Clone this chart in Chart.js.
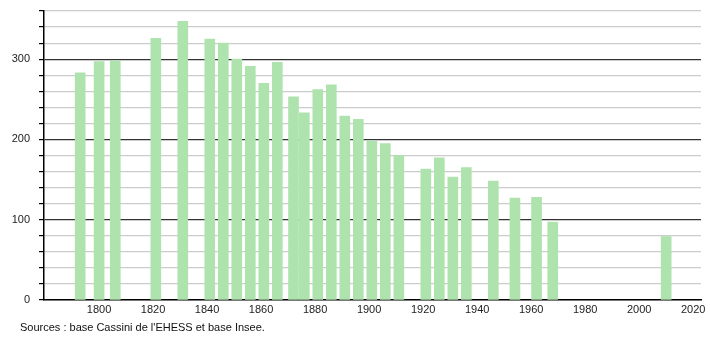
<!DOCTYPE html>
<html>
<head>
<meta charset="utf-8">
<script src="https://cdn.jsdelivr.net/npm/chart.js@4/dist/chart.umd.min.js"></script>
<style>
  html, body { margin: 0; padding: 0; background: #fff; }
  #wrap { position: relative; width: 710px; height: 340px; }
  #src { position: absolute; left: 20px; top: 321px; font: 11px "Liberation Sans", Arial, sans-serif; color: #111; white-space: nowrap; }
</style>
</head>
<body>
<div id="wrap">
  <canvas id="c" width="710" height="340"></canvas>
  <div id="src">Sources : base Cassini de l'EHESS et base Insee.</div>
</div>
<script>
const years = [1793, 1800, 1806, 1821, 1831, 1841, 1846, 1851, 1856, 1861, 1866, 1872, 1876, 1881, 1886, 1891, 1896, 1901, 1906, 1911, 1921, 1926, 1931, 1936, 1946, 1954, 1962, 1968, 2010];
const population = [283, 297, 298, 326, 347, 325, 320, 300, 291, 270, 296, 253, 233, 262, 268, 229, 225, 198, 195, 180, 163, 177, 153, 165, 148, 127, 128, 97, 79];
const yTickLabels = [0, 100, 200, 300];
const xTickLabels = [1800, 1820, 1840, 1860, 1880, 1900, 1920, 1940, 1960, 1980, 2000, 2020];

const points = years.map((y, i) => ({ x: y, y: population[i] }));
const FONT = { family: '"Liberation Sans", Arial, sans-serif', size: 11 };

new Chart(document.getElementById('c'), {
  type: 'bar',
  data: {
    datasets: [{
      data: points,
      backgroundColor: '#aee3ae',
      borderWidth: 0,
      barThickness: 10
    }]
  },
  options: {
    responsive: false,
    animation: false,
    events: [],
    layout: { padding: { left: 0, top: 11, right: 9, bottom: 0 } },
    plugins: { legend: { display: false }, tooltip: { enabled: false } },
    scales: {
      x: {
        type: 'linear',
        offset: false,
        min: 1779.6,
        max: 2022.9,
        afterFit: s => { s.height = 40; s.paddingLeft = 0; s.paddingRight = 0; },
        grid: { display: false, drawTicks: false, offset: false },
        border: { display: true, color: '#000', width: 1.5 },
        ticks: {
          stepSize: 20,
          includeBounds: false,
          autoSkip: false,
          maxRotation: 0,
          padding: 3,
          color: '#222',
          font: FONT,
          callback: v => xTickLabels.includes(v) ? String(v) : ''
        }
      },
      y: {
        min: 0,
        max: 360,
        afterFit: s => { s.width = 44; s.paddingTop = 0; s.paddingBottom = 0; },
        grid: {
          color: ctx => (ctx.tick && yTickLabels.includes(ctx.tick.value) && ctx.tick.value !== 0) ? '#333' : '#cccccc',
          lineWidth: 1.2,
          drawTicks: true,
          tickLength: 5,
          tickColor: '#000'
        },
        border: { display: true, color: '#000', width: 1.5 },
        ticks: {
          stepSize: 20,
          autoSkip: false,
          padding: 9,
          color: '#222',
          font: FONT,
          callback: v => yTickLabels.includes(v) ? String(v) : ''
        }
      }
    }
  }
});
</script>
</body>
</html>
